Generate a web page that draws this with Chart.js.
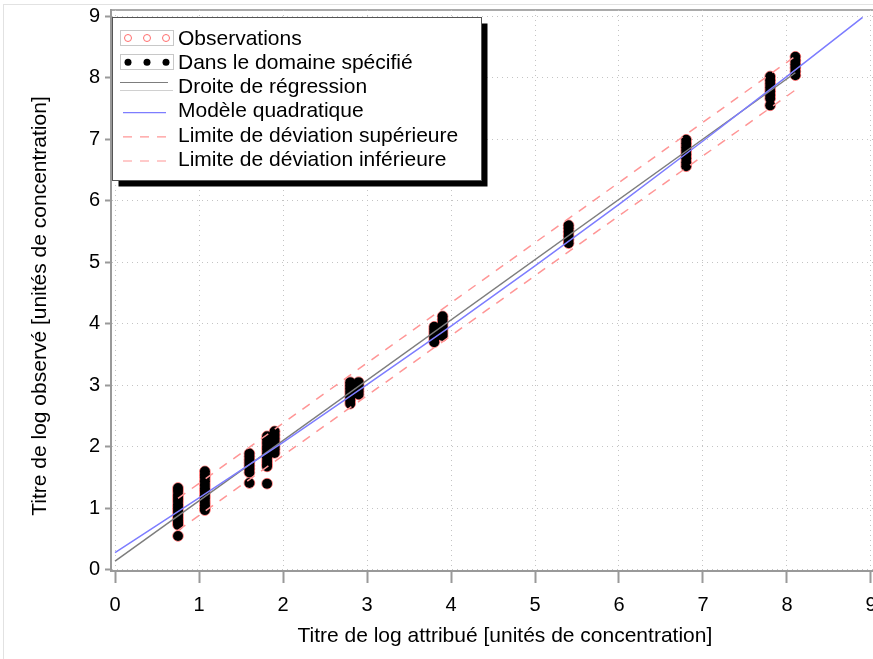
<!DOCTYPE html>
<html><head><meta charset="utf-8">
<script src="https://cdn.jsdelivr.net/npm/chart.js@4.4.1/dist/chart.umd.min.js"></script>
<style>
html,body{margin:0;padding:0;overflow:hidden;background:#fff;width:873px;height:659px}
#wrap{position:relative;width:905px;height:659px}
</style></head>
<body><div id="wrap"><canvas id="c" width="905" height="659"></canvas></div>
<script>
// ---- data ----
const levels = [0.75, 1.07, 1.60, 1.81, 1.90, 2.80, 2.90, 3.80, 3.90, 5.40, 6.80, 7.80, 8.10];
const observed = [
  [1.33,1.28,1.22,1.17,1.12,1.06,1.01,0.96,0.91,0.86,0.81,0.77,0.73,0.55],
  [1.60,1.55,1.50,1.44,1.38,1.32,1.27,1.21,1.16,1.10,1.05,1.00,0.97],
  [1.89,1.84,1.79,1.74,1.69,1.64,1.58,1.41],
  [2.17,2.12,2.06,2.00,1.95,1.89,1.83,1.77,1.72,1.68,1.40],
  [2.25,2.19,2.13,2.07,2.01,1.96,1.90],
  [3.05,3.00,2.95,2.90,2.85,2.80,2.75,2.70],
  [3.05,3.00,2.95,2.90,2.85],
  [3.95,3.90,3.85,3.80,3.75,3.70],
  [4.12,4.07,4.01,3.96,3.90,3.85,3.80],
  [5.60,5.55,5.49,5.43,5.37,5.31],
  [6.99,6.93,6.87,6.81,6.75,6.69,6.62,6.56],
  [8.02,7.96,7.90,7.84,7.78,7.72,7.66,7.55],
  [8.34,8.28,8.22,8.16,8.10,8.04]
];
const regX = [0, 8.1];
const regY = [0.14, 8.08];
const quadX = [0, 1, 2, 3, 4, 5, 6, 7, 8, 8.9];
const quadY = [0.28, 1.17, 2.07, 3.01, 3.96, 4.94, 5.94, 6.97, 8.02, 8.98];
const limX = [0.75, 8.1];
const upperY = [1.16, 8.35];
const lowerY = [0.64, 7.80];
const xTicks = [0,1,2,3,4,5,6,7,8,9];
const yTicks = [0,1,2,3,4,5,6,7,8,9];
const seriesNames = ['Observations','Dans le domaine spécifié','Droite de régression','Modèle quadratique','Limite de déviation supérieure','Limite de déviation inférieure'];
const xTitle = 'Titre de log attribué [unités de concentration]';
const yTitle = 'Titre de log observé [unités de concentration]';

// ---- build ----
const pts = [];
levels.forEach((lx, i) => observed[i].forEach(v => pts.push({x: lx, y: v})));
const toXY = (xs, ys) => xs.map((x, i) => ({x, y: ys[i]}));

const FONT = '"Liberation Sans", Arial, sans-serif';
const RED = 'rgb(255,110,110)';
const DASHRED = 'rgb(255,150,150)';
const BLUE = 'rgb(125,125,255)';
const GREY = 'rgb(125,125,125)';

const frame = {
  id: 'frame',
  beforeDraw(chart) {
    const {ctx, chartArea: a} = chart;
    ctx.save();
    ctx.strokeStyle = '#e2e2e2'; ctx.lineWidth = 1;
    ctx.strokeRect(3.5, 4.5, 1000, 1000);
    ctx.strokeStyle = '#aaa'; ctx.lineWidth = 2;
    ctx.beginPath(); ctx.moveTo(a.left, a.top); ctx.lineTo(a.right, a.top); ctx.stroke();
    ctx.restore();
  },
  afterDraw(chart) {
    const ctx = chart.ctx;
    ctx.save();
    ctx.font = '21px ' + FONT;
    ctx.fillStyle = '#000';
    ctx.textAlign = 'center'; ctx.textBaseline = 'middle';
    ctx.translate(40, 306);
    ctx.rotate(-Math.PI / 2);
    ctx.fillText(yTitle, 0, 0);
    ctx.restore();
  }
};

const legendBox = {
  id: 'legendBox',
  afterDraw(chart) {
    const ctx = chart.ctx;
    const x0 = 112.5, y0 = 17.5, w = 369, h = 163;
    ctx.save();
    ctx.fillStyle = '#000'; ctx.fillRect(x0 + 6, y0 + 6, w, h);
    ctx.fillStyle = '#fff'; ctx.fillRect(x0, y0, w, h);
    ctx.strokeStyle = '#555'; ctx.lineWidth = 1; ctx.strokeRect(x0, y0, w, h);
    ctx.font = '21px ' + FONT;
    ctx.textBaseline = 'middle';
    const ds = chart.data.datasets;
    ds.forEach((d, i) => {
      const yy = 38 + i * 24.2;
      if (i < 2) {
        ctx.strokeStyle = '#c8c8c8'; ctx.lineWidth = 1;
        ctx.strokeRect(120.5, Math.round(yy) - 7.5, 53, 15);
        [128, 147, 166].forEach(cx => {
          ctx.beginPath(); ctx.arc(cx, yy, 3.5, 0, Math.PI * 2);
          if (i === 0) { ctx.strokeStyle = d.borderColor; ctx.lineWidth = 1; ctx.stroke(); }
          else { ctx.fillStyle = '#000'; ctx.fill(); }
        });
      } else if (i === 2) {
        ctx.strokeStyle = GREY; ctx.lineWidth = 1;
        ctx.beginPath(); ctx.moveTo(120, Math.round(yy) - 3.5); ctx.lineTo(168, Math.round(yy) - 3.5); ctx.stroke();
        ctx.strokeStyle = '#d0d0d0';
        ctx.beginPath(); ctx.moveTo(120, Math.round(yy) + 4.5); ctx.lineTo(173, Math.round(yy) + 4.5); ctx.stroke();
      } else {
        ctx.strokeStyle = d.borderColor; ctx.lineWidth = 1.2;
        ctx.setLineDash(d.borderDash || []);
        ctx.beginPath(); ctx.moveTo(123, yy + 2); ctx.lineTo(166, yy + 2); ctx.stroke();
        ctx.setLineDash([]);
      }
      ctx.fillStyle = '#000';
      ctx.fillText(d.label, 178, yy + 1);
    });
    ctx.restore();
  }
};

new Chart(document.getElementById('c'), {
  type: 'scatter',
  data: {
    datasets: [
      {label: seriesNames[0], data: pts, pointRadius: 5.3, pointBorderWidth: 1,
       borderColor: RED, pointBorderColor: RED, pointBackgroundColor: 'rgba(0,0,0,0)', order: 10},
      {label: seriesNames[1], data: pts, pointRadius: 5, pointBorderWidth: 0,
       borderColor: '#000', pointBackgroundColor: '#000', order: 9},
      {label: seriesNames[2], data: toXY(regX, regY), showLine: true, pointRadius: 0,
       borderColor: GREY, borderWidth: 1.5, order: 3},
      {label: seriesNames[3], data: toXY(quadX, quadY), showLine: true, pointRadius: 0,
       borderColor: BLUE, borderWidth: 1.5, order: 2},
      {label: seriesNames[4], data: toXY(limX, upperY), showLine: true, pointRadius: 0,
       borderColor: DASHRED, borderWidth: 1.5, borderDash: [9, 8], order: 4},
      {label: seriesNames[5], data: toXY(limX, lowerY), showLine: true, pointRadius: 0,
       borderColor: DASHRED, borderWidth: 1.5, borderDash: [9, 8], order: 5}
    ]
  },
  options: {
    responsive: false,
    devicePixelRatio: 1,
    animation: false,
    layout: {padding: {top: 10, right: 4, left: 0, bottom: 0}},
    plugins: {legend: {display: false}, tooltip: {enabled: false}},
    scales: {
      x: {
        type: 'linear', min: -0.048, max: 9.33,
        afterBuildTicks: s => { s.ticks = xTicks.map(v => ({value: v})); },
        afterFit: s => { s.height = 88; s.paddingLeft = 0; s.paddingRight = 0; },
        ticks: {font: {family: FONT, size: 20}, color: '#000', padding: 10, callback: v => String(v)},
        grid: {color: '#c4c4c4', lineWidth: 1, tickColor: '#999', tickLength: 12, tickWidth: 2},
        border: {display: true, color: '#999', width: 2, dash: [1, 4]},
        title: {display: true, text: xTitle, font: {family: FONT, size: 21}, color: '#000', padding: {top: 0, bottom: 10}}
      },
      y: {
        type: 'linear', min: -0.02, max: 9.1,
        afterBuildTicks: s => { s.ticks = yTicks.map(v => ({value: v})); },
        afterFit: s => { s.width = 111; s.paddingTop = 0; s.paddingBottom = 0; },
        ticks: {font: {family: FONT, size: 20}, color: '#000', padding: 5, callback: v => String(v)},
        grid: {color: '#c4c4c4', lineWidth: 1, tickColor: '#999', tickLength: 6, tickWidth: 2},
        border: {display: true, color: '#999', width: 2, dash: [1, 4]},
        title: {display: false}
      }
    }
  },
  plugins: [frame, legendBox]
});
</script>
</body></html>
